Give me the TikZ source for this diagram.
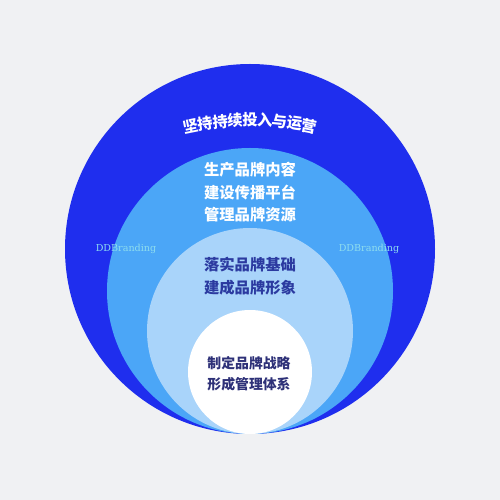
\documentclass[tikz,border=0pt]{standalone}
\usepackage{fontspec}
\newfontfamily\cjk{Noto Sans CJK SC}
\newfontfamily\wmfont{DejaVu Serif}
\definecolor{bgc}{HTML}{F0F1F3}
\definecolor{c1}{HTML}{1F2EEE}
\definecolor{c2}{HTML}{4BA6F7}
\definecolor{c3}{HTML}{A9D4FA}
\definecolor{t3}{HTML}{2B3AA0}
\definecolor{t4}{HTML}{2E3178}
\definecolor{wmc}{HTML}{8EDDEE}
\tikzset{
  ring/.style={draw=none},
  chartxt/.style={font=\cjk\bfseries\fontsize{11.5pt}{13pt}\selectfont, inner sep=0pt},
  linetxt/.style={font=\cjk\bfseries\fontsize{11.5pt}{13pt}\selectfont, inner sep=0pt},
  wmark/.style={font=\wmfont\fontsize{7.2pt}{8pt}\selectfont, text=wmc, inner sep=0pt}
}
\newcommand\arcchars[7]{% cx cy R step n style list
  \foreach \ch [count=\i] in {#7} {
    \pgfmathsetmacro\ang{90+((#5+1)/2-\i)*#4}
    \node[#6, rotate=\ang-90] (#6\i) at ({#1+#3*cos(\ang)},{#2+#3*sin(\ang)}) {\ch};
  }}
\begin{document}
\begin{tikzpicture}[x=0.75pt,y=0.75pt]
\fill[bgc] (0,0) rectangle (500,500);
\useasboundingbox (0,0) rectangle (500,500);
\fill[c1] (250,251) circle (185);
\fill[c2] (250,209) circle (143);
\fill[c3] (250,169) circle (103);
\fill[white] (250,128) circle (62);
% outer arc text
\arcchars{250}{80}{300}{2.85}{9}{chartxt, text=white}{坚,持,持,续,投,入,与,运,营}
% second ring
\node[linetxt, text=white] (l21) at (250,330) {生产品牌内容};
\node[linetxt, text=white] (l22) at (250,307) {建设传播平台};
\node[linetxt, text=white] (l23) at (250,285) {管理品牌资源};
% third ring
\node[linetxt, text=t3] (l31) at (250,235) {落实品牌基础};
\node[linetxt, text=t3] (l32) at (250,212) {建成品牌形象};
% inner
\node[linetxt, text=t4, font=\cjk\bfseries\fontsize{10.4pt}{12pt}\selectfont] (l41) at (249,137) {制定品牌战略};
\node[linetxt, text=t4, font=\cjk\bfseries\fontsize{10.4pt}{12pt}\selectfont] (l42) at (249,116) {形成管理体系};
% watermarks
\node[wmark] (wm1) at (126,251) {DDBranding};
\node[wmark] (wm2) at (369,251) {DDBranding};
\end{tikzpicture}
\end{document}
